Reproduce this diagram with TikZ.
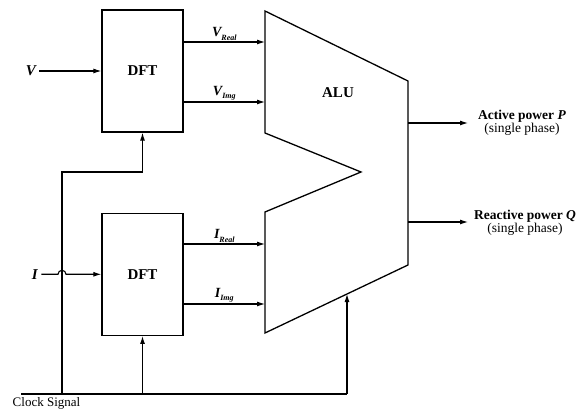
\documentclass[tikz,border=0pt]{standalone}
\usepackage{fontspec}
\setmainfont{Liberation Serif}
\usetikzlibrary{arrows.meta,positioning,calc}

\newcommand{\sigsub}[2]{#1\raisebox{-3.5pt}{\fontsize{8}{8}\selectfont #2}}

\begin{document}
\begin{tikzpicture}[
    x=1pt, y=1pt,
    node distance=80pt,
    block/.style={draw, line width=1.3pt, minimum width=81pt, minimum height=122pt, font=\bfseries\fontsize{15}{18}\selectfont},
    arr/.style={-{Latex[length=8pt,width=5pt]}, line width=1.1pt},
    wire/.style={line width=1.1pt},
    sig/.style={font=\bfseries\itshape\fontsize{15}{18}\selectfont},
    sublbl/.style={font=\bfseries\itshape\fontsize{14}{16}\selectfont, inner sep=1pt},
    outlbl/.style={align=center, font=\fontsize{13.5}{13.5}\selectfont},
]
\useasboundingbox (0,0) rectangle (582,412);

\node[block] at (142.5,341) (dft1) {DFT};
\node[block, below=of dft1] (dft2) {DFT};

% ALU outline
\coordinate (a1) at (265,401);
\coordinate (a2) at (408,331);
\coordinate (a3) at (408,147);
\coordinate (a4) at (265,79);
\coordinate (a5) at (265,200);
\coordinate (a6) at (361,240);
\coordinate (a7) at (265,279);
\draw[line width=1.3pt] (a1) -- (a2) -- (a3) -- (a4) -- (a5) -- (a6) -- (a7) -- cycle;
\node[font=\bfseries\fontsize{15}{18}\selectfont] (alu) at (338,319) {ALU};

% inputs
\node[sig, left=62pt of dft1] (v) {V};
\node[sig, left=60pt of dft2] (i) {I};

\coordinate (clk0) at (21,18);
\coordinate (tapb) at (62,18);
\coordinate (tap) at (62,240);

\draw[arr] (v) -- (dft1);
\draw[arr] (i) -- ($(i -| tap)+(-4pt,0)$) arc[start angle=180, end angle=0, radius=4pt] -- (dft2);

% DFT -> ALU
\coordinate (vre) at (265,370);
\coordinate (vim) at (265,310);
\coordinate (ire) at (265,168);
\coordinate (iim) at (265,108);
\draw[arr] (vre -| dft1.east) -- (vre) node[sublbl, midway, above] {\sigsub{V}{Real}};
\draw[arr] (vim -| dft1.east) -- (vim) node[sublbl, midway, above] {\sigsub{V}{Img}};
\draw[arr] (ire -| dft2.east) -- (ire) node[sublbl, midway, above] {\sigsub{I}{Real}};
\draw[arr] (iim -| dft2.east) -- (iim) node[sublbl, midway, above] {\sigsub{I}{Img}};

% outputs
\coordinate (pout) at (408,289);
\coordinate (qout) at (408,190);
\coordinate (pend) at (468,289);
\coordinate (qend) at (468,190);
\draw[arr] (pout) -- (pend);
\draw[arr] (qout) -- (qend);
\node[outlbl] (plbl) at (522,289) {{\bfseries Active power \textit{P}}\\(single phase)};
\node[outlbl] (qlbl) at (525,189) {{\bfseries Reactive power \textit{Q}}\\(single phase)};

% clock
\coordinate (aluclk) at ($(a3)!0.4266!(a4)$);
\draw[wire] (clk0) -- (aluclk |- clk0);
\draw[arr] (tapb) -- (tap) -| (dft1.south);
\draw[arr] (dft2.south |- clk0) -- (dft2.south);
\draw[arr] (aluclk |- clk0) -- (aluclk);
\node[font=\fontsize{13}{15}\selectfont] (clk) at (46.5,9) {Clock Signal};
\end{tikzpicture}
\end{document}
